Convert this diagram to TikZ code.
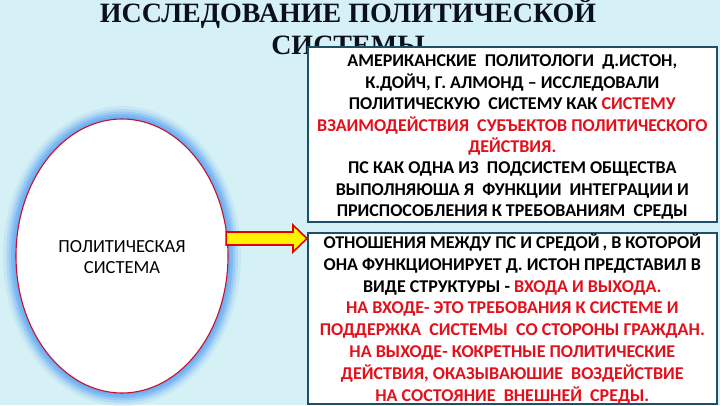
\documentclass[tikz,border=0pt]{standalone}
\usepackage{fontspec}
\setmainfont{Carlito}
\newfontfamily\titlefont{Liberation Serif}[UprightFont={* Bold}]
\usetikzlibrary{calc,shapes.geometric}
\definecolor{bg}{HTML}{D6F1F6}
\definecolor{boxline}{HTML}{1D4F66}
\definecolor{txtred}{HTML}{E3101B}
\definecolor{glowc}{HTML}{5FA6F2}
\definecolor{ellred}{HTML}{C8102E}
\definecolor{titlecol}{HTML}{0B111C}
\newcommand{\rd}[1]{\textcolor{txtred}{#1}}
\begin{document}
\begin{tikzpicture}[x=1pt,y=-1pt,
  txtbox/.style={draw=boxline, line width=1.6pt, fill=white, inner sep=0pt,
    minimum width=409pt},
  bodytext/.style={align=center, text=black, inner sep=0pt,
    font=\bfseries\fontsize{18}{#1}\selectfont},
  titletext/.style={font=\titlefont\fontsize{28}{33}\selectfont, text=titlecol, anchor=base},
  psnode/.style={ellipse, minimum width=212pt, minimum height=274pt, inner sep=0pt,
    fill=white, draw=ellred, line width=1.1pt},
  pstext/.style={align=center, font=\fontsize{18.5}{21}\selectfont},
  glowline/.style={draw=glowc, line width=#1},
  arrowshape/.style={fill=yellow, draw=red!90!black, line width=1.6pt, line join=miter}
]
\useasboundingbox (0,0) rectangle (720,405);
\fill[bg] (0,0) rectangle (720,405);
% title
\node[titletext] (title1) at (348,22) {ИССЛЕДОВАНИЕ ПОЛИТИЧЕСКОЙ};
\node[titletext] (title2) at (348,54) {СИСТЕМЫ};
% glow around the ellipse
\coordinate (pc) at (122,256);
\foreach \w/\o in {26/0.12, 20/0.2, 15/0.3, 10/0.45, 5/0.5}
  \draw[glowline=\w pt, opacity=\o] (pc) ellipse [x radius=106, y radius=137];
\node[psnode] (ps) at (pc) {};
\node[pstext] (pslabel) at ([yshift=-1.5pt]ps.center) {ПОЛИТИЧЕСКАЯ\\СИСТЕМА};
% boxes
\node[txtbox, minimum height=175pt, anchor=north west] (box1) at (307,46) {};
\node[bodytext=21.4] (box1text) at ([yshift=-3pt]box1.center) {%
АМЕРИКАНСКИЕ\ \ ПОЛИТОЛОГИ\ \ Д.ИСТОН,\\
К.ДОЙЧ, Г. АЛМОНД – ИССЛЕДОВАЛИ\\
ПОЛИТИЧЕСКУЮ\ \ СИСТЕМУ КАК \rd{СИСТЕМУ}\\
\rd{ВЗАИМОДЕЙСТВИЯ\ \ СУБЪЕКТОВ ПОЛИТИЧЕСКОГО}\\
\rd{ДЕЙСТВИЯ.}\\
ПС КАК ОДНА ИЗ\ \ ПОДСИСТЕМ ОБЩЕСТВА\\
ВЫПОЛНЯЮША Я\ \ ФУНКЦИИ\ \ ИНТЕГРАЦИИ И\\
ПРИСПОСОБЛЕНИЯ К ТРЕБОВАНИЯМ\ \ СРЕДЫ};
\node[txtbox, minimum height=171pt, anchor=north west] (box2) at (307,232) {};
\node[bodytext=21.85] (box2text) at ([yshift=-0.5pt]box2.center) {%
ОТНОШЕНИЯ МЕЖДУ ПС И СРЕДОЙ\,, В КОТОРОЙ\\
ОНА ФУНКЦИОНИРУЕТ Д. ИСТОН ПРЕДСТАВИЛ В\\
ВИДЕ СТРУКТУРЫ - \rd{ВХОДА И ВЫХОДА.}\\
\rd{НА ВХОДЕ- ЭТО ТРЕБОВАНИЯ К СИСТЕМЕ И}\\
\rd{ПОДДЕРЖКА\ \ СИСТЕМЫ\ \ СО СТОРОНЫ ГРАЖДАН.}\\
\rd{НА ВЫХОДЕ- КОКРЕТНЫЕ ПОЛИТИЧЕСКИЕ}\\
\rd{ДЕЙСТВИЯ, ОКАЗЫВАЮШИЕ\ \ ВОЗДЕЙСТВИЕ}\\
\rd{НА СОСТОЯНИЕ\ \ ВНЕШНЕЙ\ \ СРЕДЫ.}};
% arrow from ellipse to lower box
\coordinate (a1) at ($(ps.east)+(-2.5,-17.5)$);
\coordinate (a2) at (box2.west |- a1);
\draw[arrowshape] ($(a1)+(0,-6.5)$) -- ($(a2)+(-14,-6.5)$) -- ($(a2)+(-14,-13.5)$)
  -- (a2) -- ($(a2)+(-14,13.5)$) -- ($(a2)+(-14,6.5)$) -- ($(a1)+(0,6.5)$) -- cycle;
\end{tikzpicture}
\end{document}
